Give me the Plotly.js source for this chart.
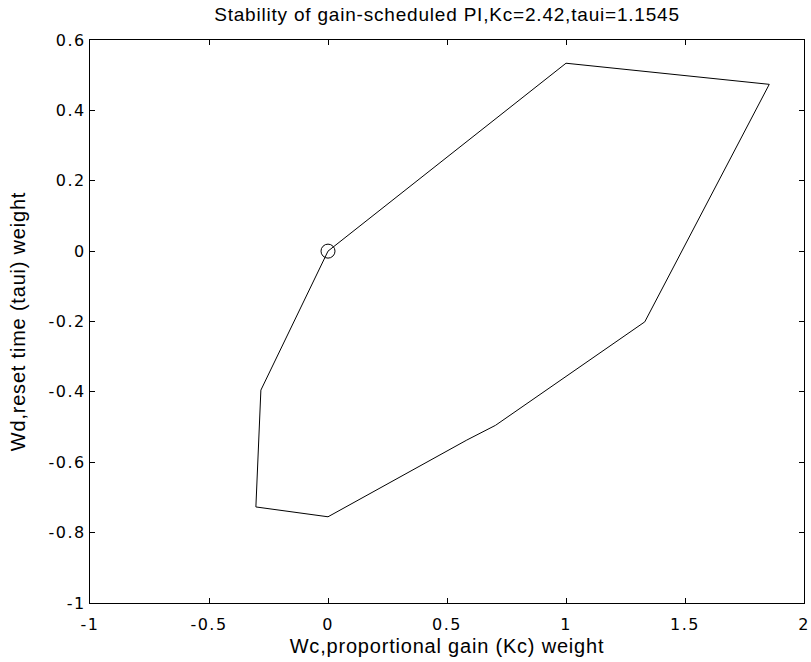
<!DOCTYPE html>
<html>
<head>
<meta charset="utf-8">
<script src="https://cdn.plot.ly/plotly-3.0.1.min.js"></script>
<style>
html, body { margin: 0; padding: 0; background: #fff; }
#chart { width: 811px; height: 662px; }
#chart .gtitle, #chart .xtitle, #chart .ytitle { letter-spacing: 0.8px; }
#chart .xtick text, #chart .ytick text { letter-spacing: 1.5px; }
</style>
</head>
<body>
<div id="chart"></div>
<script>
// Boundary of the stability region (Wc, Wd)
const wc = [0, 1.0, 1.854, 1.331, 0.704, 0.583, 0, -0.303, -0.282, 0];
const wd = [0, 0.534, 0.474, -0.201, -0.495, -0.537, -0.755, -0.727, -0.395, 0];

// Nominal operating point
const pointX = [0];
const pointY = [0];

// Tick values and labels
const xTickVals = [-1, -0.5, 0, 0.5, 1, 1.5, 2];
const xTickText = ["-1", "-0.5", "0", "0.5", "1", "1.5", "2"];
const yTickVals = [-1, -0.8, -0.6, -0.4, -0.2, 0, 0.2, 0.4, 0.6];
const yTickText = ["-1", "-0.8", "-0.6", "-0.4", "-0.2", "0", "0.2", "0.4", "0.6"];

const titleText = "Stability of gain-scheduled PI,Kc=2.42,taui=1.1545";
const xTitle = "Wc,proportional gain (Kc) weight";
const yTitle = "Wd,reset time (taui) weight";

const FONT = "Liberation Sans, Arial, Helvetica, sans-serif";
const TICKFONT = "DejaVu Sans, Liberation Sans, Arial, sans-serif";

const traces = [
  {
    x: wc, y: wd, type: "scatter", mode: "lines",
    line: { color: "#000", width: 1 },
    hoverinfo: "skip", showlegend: false
  },
  {
    x: pointX, y: pointY, type: "scatter", mode: "markers",
    marker: { symbol: "circle-open", size: 14, color: "#000", line: { color: "#000", width: 1 } },
    hoverinfo: "skip", showlegend: false
  }
];

const axisCommon = {
  showgrid: false, zeroline: false,
  showline: true, linecolor: "#000", linewidth: 1, mirror: "ticks",
  ticks: "inside", ticklen: 5, tickcolor: "#000", tickwidth: 1,
  tickfont: { family: TICKFONT, size: 16, color: "#000" },
  tickmode: "array"
};

const layout = {
  width: 811, height: 662,
  margin: { l: 90, r: 7, t: 40, b: 59 },
  paper_bgcolor: "#fff", plot_bgcolor: "#fff",
  font: { family: FONT, color: "#000" },
  title: {
    text: titleText,
    font: { family: FONT, size: 19, color: "#000" },
    x: 0.5, xanchor: "center", xref: "paper",
    y: 1 - 14 / 662, yanchor: "middle", yref: "container"
  },
  xaxis: Object.assign({}, axisCommon, {
    range: [-1, 2], tickvals: xTickVals, ticktext: xTickText,
    ticklabelstandoff: 7,
    title: { text: xTitle, font: { family: FONT, size: 20, color: "#000" }, standoff: 5 }
  }),
  yaxis: Object.assign({}, axisCommon, {
    range: [-1, 0.6], tickvals: yTickVals, ticktext: yTickText,
    title: { text: yTitle, font: { family: FONT, size: 20, color: "#000" }, standoff: 23 }
  }),
  showlegend: false
};

Plotly.newPlot("chart", traces, layout, { staticPlot: true, displayModeBar: false });
</script>
</body>
</html>
